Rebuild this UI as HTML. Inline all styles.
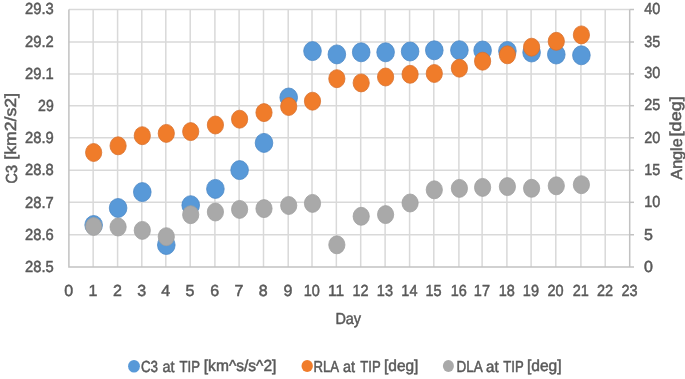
<!DOCTYPE html>
<html><head><meta charset="utf-8"><style>
html,body{margin:0;padding:0;background:#fff;}
svg{display:block;filter:blur(0.5px);}
text{font-family:"Liberation Sans",sans-serif;font-size:16px;fill:#595959;stroke:#595959;stroke-width:0.5px;text-rendering:geometricPrecision;}
</style></head><body>
<svg width="685" height="379" viewBox="0 0 685 379">
<rect width="685" height="379" fill="#fff"/>
<line x1="93.15" y1="9.5" x2="93.15" y2="267.0" stroke="#d9d9d9" stroke-width="1.5"/>
<line x1="117.60" y1="9.5" x2="117.60" y2="267.0" stroke="#d9d9d9" stroke-width="1.5"/>
<line x1="141.80" y1="9.5" x2="141.80" y2="267.0" stroke="#d9d9d9" stroke-width="1.5"/>
<line x1="165.80" y1="9.5" x2="165.80" y2="267.0" stroke="#d9d9d9" stroke-width="1.5"/>
<line x1="190.20" y1="9.5" x2="190.20" y2="267.0" stroke="#d9d9d9" stroke-width="1.5"/>
<line x1="214.90" y1="9.5" x2="214.90" y2="267.0" stroke="#d9d9d9" stroke-width="1.5"/>
<line x1="239.10" y1="9.5" x2="239.10" y2="267.0" stroke="#d9d9d9" stroke-width="1.5"/>
<line x1="263.50" y1="9.5" x2="263.50" y2="267.0" stroke="#d9d9d9" stroke-width="1.5"/>
<line x1="288.20" y1="9.5" x2="288.20" y2="267.0" stroke="#d9d9d9" stroke-width="1.5"/>
<line x1="312.00" y1="9.5" x2="312.00" y2="267.0" stroke="#d9d9d9" stroke-width="1.5"/>
<line x1="336.35" y1="9.5" x2="336.35" y2="267.0" stroke="#d9d9d9" stroke-width="1.5"/>
<line x1="360.70" y1="9.5" x2="360.70" y2="267.0" stroke="#d9d9d9" stroke-width="1.5"/>
<line x1="385.10" y1="9.5" x2="385.10" y2="267.0" stroke="#d9d9d9" stroke-width="1.5"/>
<line x1="409.60" y1="9.5" x2="409.60" y2="267.0" stroke="#d9d9d9" stroke-width="1.5"/>
<line x1="433.80" y1="9.5" x2="433.80" y2="267.0" stroke="#d9d9d9" stroke-width="1.5"/>
<line x1="458.90" y1="9.5" x2="458.90" y2="267.0" stroke="#d9d9d9" stroke-width="1.5"/>
<line x1="482.10" y1="9.5" x2="482.10" y2="267.0" stroke="#d9d9d9" stroke-width="1.5"/>
<line x1="506.90" y1="9.5" x2="506.90" y2="267.0" stroke="#d9d9d9" stroke-width="1.5"/>
<line x1="531.10" y1="9.5" x2="531.10" y2="267.0" stroke="#d9d9d9" stroke-width="1.5"/>
<line x1="555.80" y1="9.5" x2="555.80" y2="267.0" stroke="#d9d9d9" stroke-width="1.5"/>
<line x1="580.90" y1="9.5" x2="580.90" y2="267.0" stroke="#d9d9d9" stroke-width="1.5"/>
<line x1="605.20" y1="9.5" x2="605.20" y2="267.0" stroke="#d9d9d9" stroke-width="1.5"/>
<line x1="68.9" y1="42.00" x2="629.7" y2="42.00" stroke="#d9d9d9" stroke-width="1.5"/>
<line x1="68.9" y1="73.90" x2="629.7" y2="73.90" stroke="#d9d9d9" stroke-width="1.5"/>
<line x1="68.9" y1="105.70" x2="629.7" y2="105.70" stroke="#d9d9d9" stroke-width="1.5"/>
<line x1="68.9" y1="137.80" x2="629.7" y2="137.80" stroke="#d9d9d9" stroke-width="1.5"/>
<line x1="68.9" y1="170.20" x2="629.7" y2="170.20" stroke="#d9d9d9" stroke-width="1.5"/>
<line x1="68.9" y1="202.30" x2="629.7" y2="202.30" stroke="#d9d9d9" stroke-width="1.5"/>
<line x1="68.9" y1="234.75" x2="629.7" y2="234.75" stroke="#d9d9d9" stroke-width="1.5"/>
<line x1="68.9" y1="9.5" x2="629.7" y2="9.5" stroke="#d9d9d9" stroke-width="1.5"/>
<path d="M68.9,9.5 L68.9,267.0 L634.0,267.0" fill="none" stroke="#c2c2c2" stroke-width="1.5" stroke-linejoin="miter"/>
<line x1="629.7" y1="9.5" x2="629.7" y2="267.0" stroke="#c2c2c2" stroke-width="1.5"/>
<line x1="629.7" y1="9.50" x2="634.0" y2="9.50" stroke="#c2c2c2" stroke-width="1.5"/>
<line x1="629.7" y1="42.00" x2="634.0" y2="42.00" stroke="#c2c2c2" stroke-width="1.5"/>
<line x1="629.7" y1="73.90" x2="634.0" y2="73.90" stroke="#c2c2c2" stroke-width="1.5"/>
<line x1="629.7" y1="105.70" x2="634.0" y2="105.70" stroke="#c2c2c2" stroke-width="1.5"/>
<line x1="629.7" y1="137.80" x2="634.0" y2="137.80" stroke="#c2c2c2" stroke-width="1.5"/>
<line x1="629.7" y1="170.20" x2="634.0" y2="170.20" stroke="#c2c2c2" stroke-width="1.5"/>
<line x1="629.7" y1="202.30" x2="634.0" y2="202.30" stroke="#c2c2c2" stroke-width="1.5"/>
<line x1="629.7" y1="234.75" x2="634.0" y2="234.75" stroke="#c2c2c2" stroke-width="1.5"/>
<ellipse cx="93.65" cy="225" rx="8.799999999999999" ry="9.5" fill="#5899d8" stroke="#4d89c6" stroke-width="0.8"/>
<ellipse cx="118.10" cy="208" rx="8.799999999999999" ry="9.5" fill="#5899d8" stroke="#4d89c6" stroke-width="0.8"/>
<ellipse cx="142.30" cy="192.1" rx="8.799999999999999" ry="9.5" fill="#5899d8" stroke="#4d89c6" stroke-width="0.8"/>
<ellipse cx="166.30" cy="245" rx="8.799999999999999" ry="9.5" fill="#5899d8" stroke="#4d89c6" stroke-width="0.8"/>
<ellipse cx="190.70" cy="205.2" rx="8.799999999999999" ry="9.5" fill="#5899d8" stroke="#4d89c6" stroke-width="0.8"/>
<ellipse cx="215.40" cy="188.9" rx="8.799999999999999" ry="9.5" fill="#5899d8" stroke="#4d89c6" stroke-width="0.8"/>
<ellipse cx="239.60" cy="170.1" rx="8.799999999999999" ry="9.5" fill="#5899d8" stroke="#4d89c6" stroke-width="0.8"/>
<ellipse cx="264.00" cy="142.9" rx="8.799999999999999" ry="9.5" fill="#5899d8" stroke="#4d89c6" stroke-width="0.8"/>
<ellipse cx="288.70" cy="97.5" rx="8.799999999999999" ry="9.5" fill="#5899d8" stroke="#4d89c6" stroke-width="0.8"/>
<ellipse cx="312.50" cy="51.1" rx="8.799999999999999" ry="9.5" fill="#5899d8" stroke="#4d89c6" stroke-width="0.8"/>
<ellipse cx="336.85" cy="54.4" rx="8.799999999999999" ry="9.5" fill="#5899d8" stroke="#4d89c6" stroke-width="0.8"/>
<ellipse cx="361.20" cy="52.3" rx="8.799999999999999" ry="9.5" fill="#5899d8" stroke="#4d89c6" stroke-width="0.8"/>
<ellipse cx="385.60" cy="52.3" rx="8.799999999999999" ry="9.5" fill="#5899d8" stroke="#4d89c6" stroke-width="0.8"/>
<ellipse cx="410.10" cy="51.5" rx="8.799999999999999" ry="9.5" fill="#5899d8" stroke="#4d89c6" stroke-width="0.8"/>
<ellipse cx="434.30" cy="50.3" rx="8.799999999999999" ry="9.5" fill="#5899d8" stroke="#4d89c6" stroke-width="0.8"/>
<ellipse cx="459.40" cy="50.2" rx="8.799999999999999" ry="9.5" fill="#5899d8" stroke="#4d89c6" stroke-width="0.8"/>
<ellipse cx="482.60" cy="50.5" rx="8.799999999999999" ry="9.5" fill="#5899d8" stroke="#4d89c6" stroke-width="0.8"/>
<ellipse cx="507.40" cy="51" rx="8.799999999999999" ry="9.5" fill="#5899d8" stroke="#4d89c6" stroke-width="0.8"/>
<ellipse cx="531.60" cy="52.5" rx="8.799999999999999" ry="9.5" fill="#5899d8" stroke="#4d89c6" stroke-width="0.8"/>
<ellipse cx="556.30" cy="54.5" rx="8.799999999999999" ry="9.5" fill="#5899d8" stroke="#4d89c6" stroke-width="0.8"/>
<ellipse cx="581.40" cy="55.3" rx="8.799999999999999" ry="9.5" fill="#5899d8" stroke="#4d89c6" stroke-width="0.8"/>
<ellipse cx="93.65" cy="152.5" rx="8.1" ry="9.0" fill="#f07c2a" stroke="#d8712e" stroke-width="0.8"/>
<ellipse cx="118.10" cy="145.8" rx="8.1" ry="9.0" fill="#f07c2a" stroke="#d8712e" stroke-width="0.8"/>
<ellipse cx="142.30" cy="135.7" rx="8.1" ry="9.0" fill="#f07c2a" stroke="#d8712e" stroke-width="0.8"/>
<ellipse cx="166.30" cy="133.4" rx="8.1" ry="9.0" fill="#f07c2a" stroke="#d8712e" stroke-width="0.8"/>
<ellipse cx="190.70" cy="131.6" rx="8.1" ry="9.0" fill="#f07c2a" stroke="#d8712e" stroke-width="0.8"/>
<ellipse cx="215.40" cy="125" rx="8.1" ry="9.0" fill="#f07c2a" stroke="#d8712e" stroke-width="0.8"/>
<ellipse cx="239.60" cy="119.2" rx="8.1" ry="9.0" fill="#f07c2a" stroke="#d8712e" stroke-width="0.8"/>
<ellipse cx="264.00" cy="112.6" rx="8.1" ry="9.0" fill="#f07c2a" stroke="#d8712e" stroke-width="0.8"/>
<ellipse cx="288.70" cy="106.5" rx="8.1" ry="9.0" fill="#f07c2a" stroke="#d8712e" stroke-width="0.8"/>
<ellipse cx="312.50" cy="101.2" rx="8.1" ry="9.0" fill="#f07c2a" stroke="#d8712e" stroke-width="0.8"/>
<ellipse cx="336.85" cy="78.7" rx="8.1" ry="9.0" fill="#f07c2a" stroke="#d8712e" stroke-width="0.8"/>
<ellipse cx="361.20" cy="82.9" rx="8.1" ry="9.0" fill="#f07c2a" stroke="#d8712e" stroke-width="0.8"/>
<ellipse cx="385.60" cy="77" rx="8.1" ry="9.0" fill="#f07c2a" stroke="#d8712e" stroke-width="0.8"/>
<ellipse cx="410.10" cy="74.3" rx="8.1" ry="9.0" fill="#f07c2a" stroke="#d8712e" stroke-width="0.8"/>
<ellipse cx="434.30" cy="73.5" rx="8.1" ry="9.0" fill="#f07c2a" stroke="#d8712e" stroke-width="0.8"/>
<ellipse cx="459.40" cy="68.2" rx="8.1" ry="9.0" fill="#f07c2a" stroke="#d8712e" stroke-width="0.8"/>
<ellipse cx="482.60" cy="61.2" rx="8.1" ry="9.0" fill="#f07c2a" stroke="#d8712e" stroke-width="0.8"/>
<ellipse cx="507.40" cy="54.8" rx="8.1" ry="9.0" fill="#f07c2a" stroke="#d8712e" stroke-width="0.8"/>
<ellipse cx="531.60" cy="47.2" rx="8.1" ry="9.0" fill="#f07c2a" stroke="#d8712e" stroke-width="0.8"/>
<ellipse cx="556.30" cy="41.3" rx="8.1" ry="9.0" fill="#f07c2a" stroke="#d8712e" stroke-width="0.8"/>
<ellipse cx="581.40" cy="34.9" rx="8.1" ry="9.0" fill="#f07c2a" stroke="#d8712e" stroke-width="0.8"/>
<ellipse cx="93.65" cy="226.5" rx="8.1" ry="9.0" fill="#a9a9a9" stroke="#9f9f9f" stroke-width="0.8"/>
<ellipse cx="118.10" cy="227" rx="8.1" ry="9.0" fill="#a9a9a9" stroke="#9f9f9f" stroke-width="0.8"/>
<ellipse cx="142.30" cy="230.4" rx="8.1" ry="9.0" fill="#a9a9a9" stroke="#9f9f9f" stroke-width="0.8"/>
<ellipse cx="166.30" cy="236.7" rx="8.1" ry="9.0" fill="#a9a9a9" stroke="#9f9f9f" stroke-width="0.8"/>
<ellipse cx="190.70" cy="214.7" rx="8.1" ry="9.0" fill="#a9a9a9" stroke="#9f9f9f" stroke-width="0.8"/>
<ellipse cx="215.40" cy="212" rx="8.1" ry="9.0" fill="#a9a9a9" stroke="#9f9f9f" stroke-width="0.8"/>
<ellipse cx="239.60" cy="209.4" rx="8.1" ry="9.0" fill="#a9a9a9" stroke="#9f9f9f" stroke-width="0.8"/>
<ellipse cx="264.00" cy="208.6" rx="8.1" ry="9.0" fill="#a9a9a9" stroke="#9f9f9f" stroke-width="0.8"/>
<ellipse cx="288.70" cy="205.5" rx="8.1" ry="9.0" fill="#a9a9a9" stroke="#9f9f9f" stroke-width="0.8"/>
<ellipse cx="312.50" cy="203.4" rx="8.1" ry="9.0" fill="#a9a9a9" stroke="#9f9f9f" stroke-width="0.8"/>
<ellipse cx="336.85" cy="244.8" rx="8.1" ry="9.0" fill="#a9a9a9" stroke="#9f9f9f" stroke-width="0.8"/>
<ellipse cx="361.20" cy="216.3" rx="8.1" ry="9.0" fill="#a9a9a9" stroke="#9f9f9f" stroke-width="0.8"/>
<ellipse cx="385.60" cy="214.6" rx="8.1" ry="9.0" fill="#a9a9a9" stroke="#9f9f9f" stroke-width="0.8"/>
<ellipse cx="410.10" cy="203" rx="8.1" ry="9.0" fill="#a9a9a9" stroke="#9f9f9f" stroke-width="0.8"/>
<ellipse cx="434.30" cy="189.8" rx="8.1" ry="9.0" fill="#a9a9a9" stroke="#9f9f9f" stroke-width="0.8"/>
<ellipse cx="459.40" cy="188.4" rx="8.1" ry="9.0" fill="#a9a9a9" stroke="#9f9f9f" stroke-width="0.8"/>
<ellipse cx="482.60" cy="187.4" rx="8.1" ry="9.0" fill="#a9a9a9" stroke="#9f9f9f" stroke-width="0.8"/>
<ellipse cx="507.40" cy="186.6" rx="8.1" ry="9.0" fill="#a9a9a9" stroke="#9f9f9f" stroke-width="0.8"/>
<ellipse cx="531.60" cy="188.3" rx="8.1" ry="9.0" fill="#a9a9a9" stroke="#9f9f9f" stroke-width="0.8"/>
<ellipse cx="556.30" cy="185.8" rx="8.1" ry="9.0" fill="#a9a9a9" stroke="#9f9f9f" stroke-width="0.8"/>
<ellipse cx="581.40" cy="184.7" rx="8.1" ry="9.0" fill="#a9a9a9" stroke="#9f9f9f" stroke-width="0.8"/>
<text x="53.7" y="14.05" text-anchor="end" textLength="28.7" lengthAdjust="spacingAndGlyphs">29.3</text>
<text x="53.7" y="46.55" text-anchor="end" textLength="28.7" lengthAdjust="spacingAndGlyphs">29.2</text>
<text x="53.7" y="78.90" text-anchor="end" textLength="28.7" lengthAdjust="spacingAndGlyphs">29.1</text>
<text x="53.7" y="110.60" text-anchor="end" textLength="15.6" lengthAdjust="spacingAndGlyphs">29</text>
<text x="53.7" y="143.10" text-anchor="end" textLength="28.7" lengthAdjust="spacingAndGlyphs">28.9</text>
<text x="53.7" y="175.15" text-anchor="end" textLength="28.7" lengthAdjust="spacingAndGlyphs">28.8</text>
<text x="53.7" y="208.25" text-anchor="end" textLength="28.7" lengthAdjust="spacingAndGlyphs">28.7</text>
<text x="53.7" y="240.20" text-anchor="end" textLength="28.7" lengthAdjust="spacingAndGlyphs">28.6</text>
<text x="53.7" y="271.50" text-anchor="end" textLength="28.7" lengthAdjust="spacingAndGlyphs">28.5</text>
<text x="644.2" y="14.40" textLength="16" lengthAdjust="spacingAndGlyphs">40</text>
<text x="644.2" y="47.15" textLength="16" lengthAdjust="spacingAndGlyphs">35</text>
<text x="644.2" y="77.85" textLength="16" lengthAdjust="spacingAndGlyphs">30</text>
<text x="644.2" y="110.30" textLength="16" lengthAdjust="spacingAndGlyphs">25</text>
<text x="644.2" y="142.70" textLength="16" lengthAdjust="spacingAndGlyphs">20</text>
<text x="644.2" y="175.00" textLength="16" lengthAdjust="spacingAndGlyphs">15</text>
<text x="644.2" y="207.15" textLength="16" lengthAdjust="spacingAndGlyphs">10</text>
<text x="644" y="239.75">5</text>
<text x="644" y="272.40">0</text>
<text x="68.70" y="295.8" text-anchor="middle">0</text>
<text x="92.95" y="295.8" text-anchor="middle">1</text>
<text x="117.40" y="295.8" text-anchor="middle">2</text>
<text x="141.60" y="295.8" text-anchor="middle">3</text>
<text x="165.60" y="295.8" text-anchor="middle">4</text>
<text x="190.00" y="295.8" text-anchor="middle">5</text>
<text x="214.70" y="295.8" text-anchor="middle">6</text>
<text x="238.90" y="295.8" text-anchor="middle">7</text>
<text x="263.30" y="295.8" text-anchor="middle">8</text>
<text x="288.00" y="295.8" text-anchor="middle">9</text>
<text x="311.80" y="295.8" text-anchor="middle" textLength="16.1" lengthAdjust="spacingAndGlyphs">10</text>
<text x="336.15" y="295.8" text-anchor="middle" textLength="16.1" lengthAdjust="spacingAndGlyphs">11</text>
<text x="360.50" y="295.8" text-anchor="middle" textLength="16.1" lengthAdjust="spacingAndGlyphs">12</text>
<text x="384.90" y="295.8" text-anchor="middle" textLength="16.1" lengthAdjust="spacingAndGlyphs">13</text>
<text x="409.40" y="295.8" text-anchor="middle" textLength="16.1" lengthAdjust="spacingAndGlyphs">14</text>
<text x="433.60" y="295.8" text-anchor="middle" textLength="16.1" lengthAdjust="spacingAndGlyphs">15</text>
<text x="458.70" y="295.8" text-anchor="middle" textLength="16.1" lengthAdjust="spacingAndGlyphs">16</text>
<text x="481.90" y="295.8" text-anchor="middle" textLength="16.1" lengthAdjust="spacingAndGlyphs">17</text>
<text x="506.70" y="295.8" text-anchor="middle" textLength="16.1" lengthAdjust="spacingAndGlyphs">18</text>
<text x="530.90" y="295.8" text-anchor="middle" textLength="16.1" lengthAdjust="spacingAndGlyphs">19</text>
<text x="555.60" y="295.8" text-anchor="middle" textLength="16.1" lengthAdjust="spacingAndGlyphs">20</text>
<text x="580.70" y="295.8" text-anchor="middle" textLength="16.1" lengthAdjust="spacingAndGlyphs">21</text>
<text x="605.00" y="295.8" text-anchor="middle" textLength="16.1" lengthAdjust="spacingAndGlyphs">22</text>
<text x="629.50" y="295.8" text-anchor="middle" textLength="16.1" lengthAdjust="spacingAndGlyphs">23</text>
<text x="335.4" y="323.7" textLength="25.7" lengthAdjust="spacingAndGlyphs">Day</text>
<text transform="translate(16.9,183.53) rotate(-90)" textLength="18.47" lengthAdjust="spacingAndGlyphs">C3</text>
<text transform="translate(16.3,159.66) rotate(-90)" textLength="66.61" lengthAdjust="spacingAndGlyphs">[km2/s2]</text>
<text transform="translate(681.7,179.63) rotate(-90)" textLength="41.25" lengthAdjust="spacingAndGlyphs">Angle</text>
<text transform="translate(681.0,136.38) rotate(-90)" textLength="40.07" lengthAdjust="spacingAndGlyphs">[deg]</text>
<ellipse cx="134" cy="366.2" rx="5.9" ry="6.3" fill="#5899d8"/>
<text x="140.92" y="371.5" textLength="17.06" lengthAdjust="spacingAndGlyphs">C3</text>
<text x="162.39" y="371.5" textLength="12.02" lengthAdjust="spacingAndGlyphs">at</text>
<text x="179.61" y="371.5" textLength="20.39" lengthAdjust="spacingAndGlyphs">TIP</text>
<text x="203.79" y="371.1" textLength="72.62" lengthAdjust="spacingAndGlyphs">[km^s/s^2]</text>
<ellipse cx="307.2" cy="366" rx="5.7" ry="6.1" fill="#f07c2a"/>
<text x="313.52" y="371.5" textLength="25.61" lengthAdjust="spacingAndGlyphs">RLA</text>
<text x="343.09" y="371.5" textLength="12.02" lengthAdjust="spacingAndGlyphs">at</text>
<text x="360.31" y="371.5" textLength="20.39" lengthAdjust="spacingAndGlyphs">TIP</text>
<text x="384.00" y="371.1" textLength="34.41" lengthAdjust="spacingAndGlyphs">[deg]</text>
<ellipse cx="448.4" cy="366.1" rx="5.5" ry="6" fill="#a9a9a9"/>
<text x="456.49" y="371.5" textLength="26.23" lengthAdjust="spacingAndGlyphs">DLA</text>
<text x="486.06" y="371.5" textLength="12.55" lengthAdjust="spacingAndGlyphs">at</text>
<text x="503.31" y="371.5" textLength="20.39" lengthAdjust="spacingAndGlyphs">TIP</text>
<text x="526.99" y="371.1" textLength="34.62" lengthAdjust="spacingAndGlyphs">[deg]</text>
</svg>
</body></html>
